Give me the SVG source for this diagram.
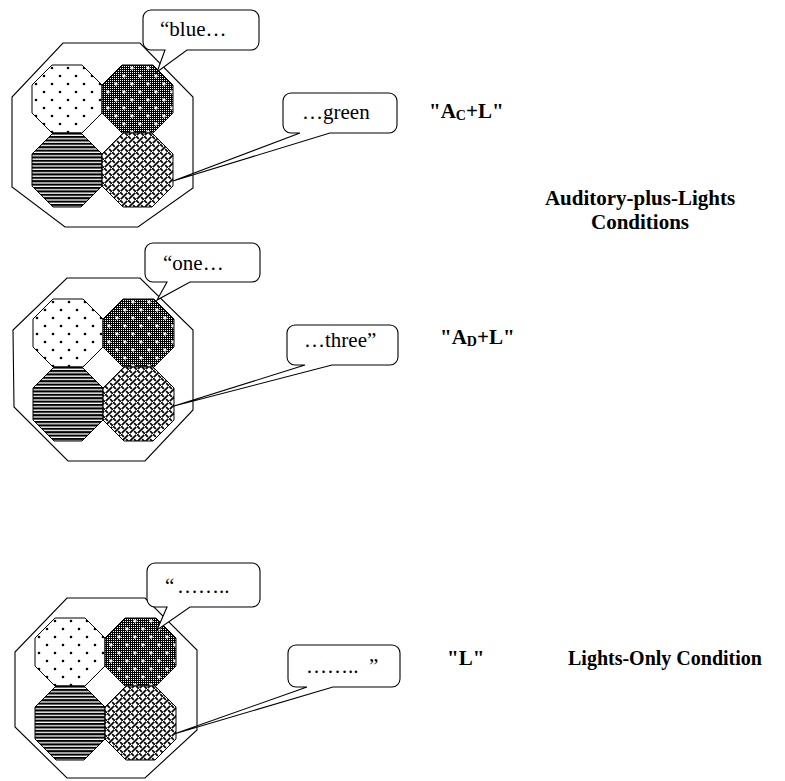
<svg xmlns="http://www.w3.org/2000/svg" width="785" height="781" viewBox="0 0 785 781">
<style>
.outer{fill:#fff;stroke:#000;stroke-width:1.1}
.oct{stroke:#000;stroke-width:1}
.dots{fill:url(#dots)}
.dense{fill:url(#dense)}
.hl{fill:url(#hl)}
.weave{fill:url(#weave)}
.bub{fill:#fff;stroke:#000;stroke-width:1.1;stroke-linejoin:miter}
.bt{font-family:"Liberation Serif","Times New Roman",serif;font-size:21px;fill:#000}
.lb{font-family:"Liberation Serif","Times New Roman",serif;font-size:20px;font-weight:bold;fill:#000}
.lb2{font-family:"Liberation Serif","Times New Roman",serif;font-size:21px;font-weight:bold;fill:#000}
</style>
<defs>
<pattern id="dots" width="16" height="16" patternUnits="userSpaceOnUse">
<rect width="16" height="16" fill="#fff"/>
<circle cx="4" cy="4" r="1.3" fill="#000"/>
<circle cx="12" cy="12" r="1.3" fill="#000"/>
</pattern>
<pattern id="chk" width="2" height="2" patternUnits="userSpaceOnUse">
<rect width="2" height="2" fill="#000"/>
<rect width="1" height="1" fill="#fff"/>
</pattern>
<pattern id="dense" width="16" height="16" patternUnits="userSpaceOnUse">
<rect width="16" height="16" fill="url(#chk)"/>
<path d="M2.3,4h3.4M4,2.3v3.4M10.3,12h3.4M12,10.3v3.4" stroke="#fff" stroke-width="1.3"/>
</pattern>
<pattern id="hl" width="6" height="3.4" patternUnits="userSpaceOnUse">
<rect width="6" height="3.4" fill="#fff"/>
<rect width="6" height="2.1" fill="#000"/>
</pattern>
<pattern id="weave" width="8" height="8" patternUnits="userSpaceOnUse">
<rect width="8" height="8" fill="#fff"/>
<path d="M0.8,7.2L7.2,0.8M0,0L2.8,2.8M5.2,5.2L8,8" stroke="#000" stroke-width="1.7" fill="none"/>
</pattern>
</defs>

<g id="panel1">
<polygon class="outer" points="63,43 140,43 193,97 193,188 138,227 65,227 12,187 12,97"/>
<g id="panel1-lights">
<polygon class="oct dots" points="52,65 82,65 102,85 102,113 82,133 52,133 32,113 32,85"/>
<polygon class="oct dense" points="122,65 153,65 173,85 173,113 153,133 122,133 102,113 102,85"/>
<polygon class="oct hl" points="53,133 81,133 102,154 102,186 81,207 53,207 32,186 32,154"/>
<polygon class="oct weave" points="123,133 152,133 173,154 173,186 152,207 123,207 102,186 102,154"/>
</g>
</g>

<g id="panel2">
<polygon class="outer" points="67,278 140,278 193,330 193,410 145,461 68,461 14,407 13,330"/>
<g id="panel2-lights" transform="translate(1,234)">
<polygon class="oct dots" points="52,65 82,65 102,85 102,113 82,133 52,133 32,113 32,85"/>
<polygon class="oct dense" points="122,65 153,65 173,85 173,113 153,133 122,133 102,113 102,85"/>
<polygon class="oct hl" points="53,133 81,133 102,154 102,186 81,207 53,207 32,186 32,154"/>
<polygon class="oct weave" points="123,133 152,133 173,154 173,186 152,207 123,207 102,186 102,154"/>
</g>
</g>

<g id="panel3">
<polygon class="outer" points="67,598 145,598 197,650 197,730 145,778 67,778 15,727 15,652"/>
<g id="panel3-lights" transform="translate(3,553)">
<polygon class="oct dots" points="52,65 82,65 102,85 102,113 82,133 52,133 32,113 32,85"/>
<polygon class="oct dense" points="122,65 153,65 173,85 173,113 153,133 122,133 102,113 102,85"/>
<polygon class="oct hl" points="53,133 81,133 102,154 102,186 81,207 53,207 32,186 32,154"/>
<polygon class="oct weave" points="123,133 152,133 173,154 173,186 152,207 123,207 102,186 102,154"/>
</g>
</g>

<g id="bubble-blue">
<path class="bub" d="M151,10H251A8,8 0 0 1 259,18V42A8,8 0 0 1 251,50H187L157,72L165,50H151A8,8 0 0 1 143,42V18A8,8 0 0 1 151,10Z"/>
<text class="bt" x="160" y="36">“blue…</text>
</g>
<g id="bubble-green">
<path class="bub" d="M291,93H389A8,8 0 0 1 397,101V125A8,8 0 0 1 389,133H330L173,181L300,133H291A8,8 0 0 1 283,125V101A8,8 0 0 1 291,93Z"/>
<text class="bt" x="302" y="119">…green</text>
</g>
<g id="bubble-one">
<path class="bub" d="M153,243H252A8,8 0 0 1 260,251V274A8,8 0 0 1 252,282H190L157,300L167,282H153A8,8 0 0 1 145,274V251A8,8 0 0 1 153,243Z"/>
<text class="bt" x="163" y="270">“one…</text>
</g>
<g id="bubble-three">
<path class="bub" d="M295,325H390A8,8 0 0 1 398,333V357A8,8 0 0 1 390,365H332L174,406L305,365H295A8,8 0 0 1 287,357V333A8,8 0 0 1 295,325Z"/>
<text class="bt" x="304" y="347">…three”</text>
</g>
<g id="bubble-open">
<path class="bub" d="M155,563H252A8,8 0 0 1 260,571V599A8,8 0 0 1 252,607H190L157,630L167,607H155A8,8 0 0 1 147,599V571A8,8 0 0 1 155,563Z"/>
<text class="bt" x="165" y="593">“<tspan x="177">……..</tspan></text>
</g>
<g id="bubble-close">
<path class="bub" d="M296,645H392A8,8 0 0 1 400,653V679A8,8 0 0 1 392,687H333L174,734L307,687H296A8,8 0 0 1 288,679V653A8,8 0 0 1 296,645Z"/>
<text class="bt" x="306" y="673">……..<tspan x="369">”</tspan></text>
</g>

<g id="label-ACL"><text class="lb2" x="429" y="118">"A<tspan font-size="14" dy="2">C</tspan><tspan dy="-2">+L"</tspan></text></g>
<g id="label-ADL"><text class="lb2" x="440" y="344">"A<tspan font-size="14" dy="2">D</tspan><tspan dy="-2">+L"</tspan></text></g>
<g id="label-L"><text class="lb2" x="447" y="665">"L"</text></g>
<g id="caption-auditory"><text class="lb2" text-anchor="middle"><tspan x="640" y="205">Auditory-plus-Lights</tspan><tspan x="640" y="229">Conditions</tspan></text></g>
<g id="caption-lights"><text class="lb" x="568" y="665">Lights-Only Condition</text></g>
</svg>
